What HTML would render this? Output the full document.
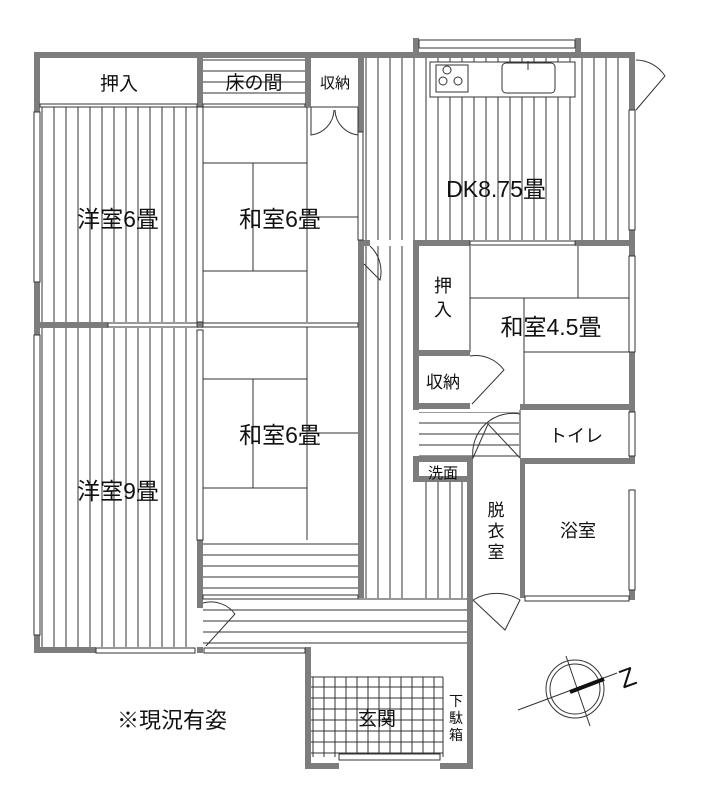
<!DOCTYPE html>
<html><head><meta charset="utf-8"><style>
html,body{margin:0;padding:0;background:#fff;width:701px;height:800px;overflow:hidden}
text{font-family:"Liberation Sans","Noto Sans CJK JP",sans-serif;fill:#111}
</style></head><body>
<svg width="701" height="800" viewBox="0 0 701 800" xmlns="http://www.w3.org/2000/svg">
<defs>
<pattern id="v" width="12" height="10" patternUnits="userSpaceOnUse"><line x1="6" y1="0" x2="6" y2="10" stroke="#333" stroke-width="1"/></pattern>
<pattern id="h" width="10" height="11" patternUnits="userSpaceOnUse"><line x1="0" y1="5" x2="10" y2="5" stroke="#333" stroke-width="1"/></pattern>
<pattern id="g" width="11" height="11" patternUnits="userSpaceOnUse"><path d="M5 0V11M0 5H11" stroke="#333" stroke-width="1"/></pattern>
</defs>
<rect x="40" y="107" width="157" height="215" fill="url(#v)"/>
<rect x="40" y="328" width="157" height="319" fill="url(#v)"/>
<rect x="364" y="58" width="265" height="182" fill="url(#v)"/>
<rect x="365" y="246" width="48" height="352" fill="url(#v)"/>
<rect x="419" y="482" width="48" height="116" fill="url(#v)"/>
<rect x="203" y="540" width="155" height="58" fill="url(#h)"/>
<rect x="203" y="598" width="264" height="49" fill="url(#h)"/>
<rect x="203" y="58" width="102" height="49" fill="url(#h)"/>
<rect x="419" y="412" width="100" height="46" fill="url(#h)"/>
<rect x="311" y="677" width="132" height="80" fill="url(#g)"/>
<rect x="430" y="62" width="145" height="35" fill="#fff" stroke="#333"/>
<rect x="436" y="65" width="32" height="27" fill="none" stroke="#333"/>
<circle cx="447" cy="70" r="4" fill="none" stroke="#333"/><circle cx="443" cy="81" r="4" fill="none" stroke="#333"/><circle cx="458" cy="81" r="4" fill="none" stroke="#333"/>
<rect x="502" y="63" width="53" height="30" rx="4" fill="none" stroke="#333"/>
<line x1="528" y1="61" x2="528" y2="70" stroke="#333"/>
<g stroke="#333" fill="none" stroke-width="1">
<path d="M307 107V322M203 163H307M203 271H307M253 163V271M307 217H358"/>
<path d="M307 327V540M203 379H307M203 488H307M253 379V488M307 433H358"/>
<path d="M470 298H630M578 246V298M524 298V405M524 352H630M470 246V352"/>
<path d="M203 107H358M40 107H197"/>
<path d="M443 677V757M311 677H443"/>
<path d="M520 410V458M472 462V598M522 462V598"/>
</g>
<g fill="#7d7d7d">
<rect x="34" y="52" width="330" height="6"/>
<rect x="358" y="52" width="277" height="6"/>
<rect x="34" y="52" width="6" height="601"/>
<rect x="34" y="647" width="62" height="6"/>
<rect x="197" y="52" width="6" height="55"/>
<rect x="305" y="52" width="6" height="55"/>
<rect x="358" y="52" width="6" height="80"/>
<rect x="629" y="52" width="6" height="58"/>
<rect x="629" y="230" width="6" height="20"/>
<rect x="34" y="322" width="74" height="6"/>
<rect x="197" y="322" width="6" height="6"/>
<rect x="358" y="240" width="6" height="358"/>
<rect x="364" y="240" width="6" height="6"/>
<rect x="413" y="240" width="57" height="6"/>
<rect x="575" y="240" width="60" height="6"/>
<rect x="413" y="246" width="6" height="164"/>
<rect x="413" y="350" width="57" height="6"/>
<rect x="413" y="403" width="57" height="6"/>
<rect x="520" y="404" width="115" height="6"/>
<rect x="629" y="246" width="6" height="10"/>
<rect x="629" y="352" width="6" height="58"/>
<rect x="629" y="404" width="6" height="60"/>
<rect x="629" y="590" width="6" height="10"/>
<rect x="520" y="458" width="115" height="6"/>
<rect x="413" y="456" width="60" height="6"/>
<rect x="413" y="456" width="6" height="26"/>
<rect x="413" y="476" width="60" height="6"/>
<rect x="467" y="456" width="6" height="313"/>
<rect x="520" y="462" width="5" height="136"/>
<rect x="197" y="540" width="6" height="68"/>
<rect x="197" y="647" width="6" height="6"/>
<rect x="305" y="647" width="6" height="122"/>
<rect x="305" y="763" width="34" height="6"/>
<rect x="440" y="763" width="33" height="6"/>
<rect x="413" y="38" width="6" height="14"/><rect x="575" y="38" width="6" height="14"/>
</g>
<g fill="#fff" stroke="#333" stroke-width="1">
<rect x="419" y="40" width="156" height="8"/>
<rect x="34" y="112" width="6" height="170"/>
<rect x="34" y="335" width="6" height="300"/>
<rect x="96" y="648" width="99" height="5"/>
<rect x="204" y="648" width="101" height="5"/>
<rect x="339" y="754" width="101" height="6"/>
<rect x="629" y="110" width="6" height="120"/>
<rect x="629" y="256" width="6" height="96"/>
<rect x="629" y="412" width="6" height="44"/>
<rect x="629" y="490" width="6" height="100"/>
<rect x="358" y="132" width="5" height="108"/>
<rect x="108" y="323" width="89" height="4"/>
<rect x="203" y="323" width="155" height="4"/>
<rect x="40" y="104" width="157" height="3"/>
<rect x="203" y="104" width="102" height="3"/>
<rect x="197" y="107" width="6" height="215"/>
<rect x="197" y="330" width="6" height="210"/>
<rect x="470" y="241" width="105" height="4"/>
<rect x="525" y="596" width="104" height="5"/>
<rect x="203" y="595" width="155" height="4"/>
</g>
<g stroke="#333" fill="none" stroke-width="1">
<path d="M311 107V135A26 26 0 0 0 334 110M358 107V135A26 26 0 0 1 335 110"/>
<path d="M636 60A35 35 0 0 1 665 76L636 110"/>
<path d="M370 246A35 35 0 0 1 380 280L364 264"/>
<path d="M470 356A35 35 0 0 1 504 370L472 404"/>
<path d="M520 414A40 40 0 0 0 473 458L488 424L520 458"/>
<path d="M473 600A45 45 0 0 1 520 600L505 630L473 600"/>
<path d="M203 603A30 30 0 0 1 235 614L206 646"/>
</g>
<g stroke="#333" fill="none">
<circle cx="575" cy="689" r="29"/><circle cx="575" cy="689" r="25"/>
<line x1="566" y1="656" x2="590" y2="726"/>
<line x1="518" y1="710" x2="617" y2="673"/>
<line x1="570" y1="692" x2="604" y2="679" stroke="#111" stroke-width="4"/>
</g>
<text x="620" y="685" font-size="26" transform="rotate(-20 632 678)">Z</text>
<g text-anchor="middle">
<text x="119" y="90" font-size="19">押入</text>
<text x="254" y="89" font-size="19">床の間</text>
<text x="335" y="88" font-size="15">収納</text>
<text x="118" y="227" font-size="23">洋室6畳</text>
<text x="280" y="227" font-size="23">和室6畳</text>
<text x="496" y="197" font-size="23">DK8.75畳</text>
<text x="443" y="292" font-size="18">押</text>
<text x="443" y="316" font-size="18">入</text>
<text x="551" y="335" font-size="23">和室4.5畳</text>
<text x="443" y="388" font-size="17">収納</text>
<text x="280" y="443" font-size="23">和室6畳</text>
<text x="576" y="442" font-size="18">トイレ</text>
<text x="443" y="478" font-size="15">洗面</text>
<text x="118" y="499" font-size="23">洋室9畳</text>
<text x="496" y="516" font-size="17">脱</text>
<text x="496" y="537" font-size="17">衣</text>
<text x="496" y="558" font-size="17">室</text>
<text x="578" y="537" font-size="18">浴室</text>
<text x="172" y="728" font-size="22">※現況有姿</text>
<text x="377" y="725" font-size="19">玄関</text>
<text x="456" y="706" font-size="14">下</text>
<text x="456" y="723" font-size="14">駄</text>
<text x="456" y="740" font-size="14">箱</text>
</g>
</svg>
</body></html>
